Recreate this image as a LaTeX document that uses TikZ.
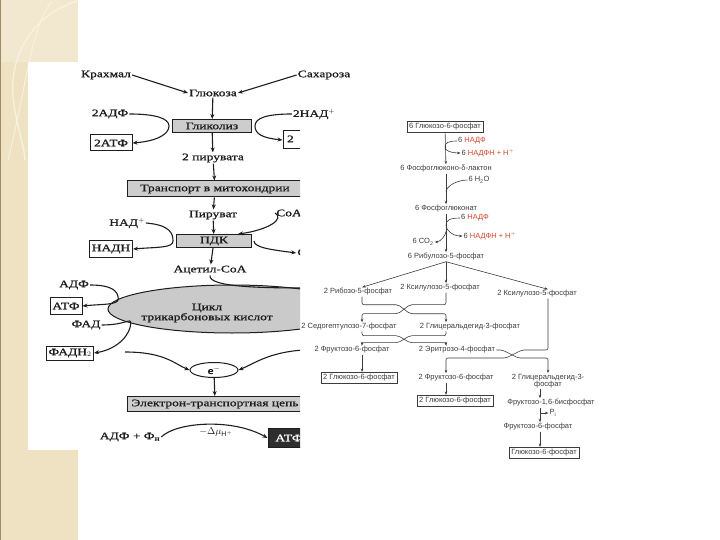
\documentclass[tikz,border=0pt]{standalone}
\usepackage{fontspec}
\setmainfont{Liberation Sans}
\newfontfamily\scanfont[FakeStretch=1.35, FakeBold=1.2]{Liberation Serif}
\usetikzlibrary{arrows.meta,positioning,shapes.geometric,calc}
\definecolor{strip}{HTML}{EEE2C3}
\definecolor{stripl}{HTML}{F2E8CF}
\definecolor{arcl}{HTML}{F8F1DE}
\definecolor{stripd}{HTML}{9C8B66}
\definecolor{boxgray}{HTML}{CDCDCD}
\definecolor{ellgray}{HTML}{CACACA}
\definecolor{darkbox}{HTML}{2E2E2E}
\definecolor{txt}{HTML}{1E1E1E}
\definecolor{txt2}{HTML}{3C3C3C}
\definecolor{redl}{HTML}{D2452B}

\begin{document}
\begin{tikzpicture}[x=1pt, y=-1pt,
  >=Stealth,
  lbl/.style={font=\scanfont\fontsize{10}{11}\selectfont, text=txt, inner sep=1pt},
  lbox/.style={lbl, draw=txt, line width=1pt, fill=white, inner sep=2pt},
  gbox/.style={lbl, draw=txt, line width=1pt, fill=boxgray},
  arrow/.style={-{Stealth[length=5pt,width=4pt]}, line width=1.1pt, draw=txt},
  curve/.style={line width=1.1pt, draw=txt},
  rlbl/.style={font=\fontsize{7.5}{8.5}\selectfont, text=txt2, inner sep=1pt},
  rbox/.style={rlbl, draw=txt2, line width=0.6pt, inner sep=2.2pt},
  rarrow/.style={-{Stealth[length=3.5pt,width=2.6pt]}, line width=0.6pt, draw=txt2},
  rline/.style={line width=0.6pt, draw=txt2},
]
\useasboundingbox (0,0) rectangle (720,540);

% slide border strip
\fill[strip] (0,0) rectangle (78,540);
\fill[stripl] (0,0) rectangle (78,62);
\draw[arcl, line width=1.4pt] (77,1) .. controls (35,14) and (6,55) .. (14,105) .. controls (18,130) and (24,145) .. (25,160);
\draw[arcl, line width=1pt] (52,1) .. controls (30,30) and (28,80) .. (8,160);
\draw[stripd, line width=0.8pt] (0.4,0) -- (0.4,540);

% glycolysis and TCA scheme (left picture)
\begin{scope}
\clip (28,62) -- (360,62) -- (360,120) -- (300,120) -- (300,450) -- (28,450) -- cycle;
\fill[white] (28,62) rectangle (360,450);

\node[lbl] (krahmal) at (106,75) {Крахмал};
\node[lbl] (saharoza) at (324,75) {Сахароза};
\node[lbl] (glucose) at (213,93) {Глюкоза};
\node[gbox, minimum width=79pt, minimum height=13pt] (glyc) at (212,126) {Гликолиз};
\node[lbl] (adp2) at (110,114) {2АДФ};
\node[lbox, minimum width=42pt, minimum height=16pt] (atp2) at (111,143) {2АТФ};
\node[lbl] (nad2) at (314,114) {2НАД$^+$};
\node[lbox, minimum width=60pt, minimum height=18pt] (nadh2) at (313,140) {2~~НАДН};
\node[lbl] (pyr2) at (213,158) {2 пирувата};
\node[gbox, minimum width=176pt, minimum height=16pt] (transp) at (215,189) {Транспорт в митохондрии};
\node[lbl] (pyruvate) at (213,215) {Пируват};
\node[gbox, minimum width=75pt, minimum height=13pt] (pdk) at (214,241) {ПДК};
\node[lbl] (nad) at (127,223) {НАД$^+$};
\node[lbox, minimum width=43pt, minimum height=17pt] (nadh) at (111,249) {НАДН};
\node[lbl] (coa) at (289,213) {СоА};
\node[lbl] (co2) at (309,253) {СО$_2$};
\node[lbl] (acetyl) at (210,270) {Ацетил-СоА};
\node[ellipse, draw=txt, line width=1pt, fill=ellgray, minimum width=248pt, minimum height=48pt] (tca) at (232,309) {};
\node[lbl, align=center] (tcatxt) at (207,313) {Цикл\\[-1pt]трикарбоновых кислот};
\node[lbl] (adp) at (74,285) {АДФ};
\node[lbox, minimum width=32pt, minimum height=17pt] (atp) at (66,306) {АТФ};
\node[lbl] (fad) at (86,325) {ФАД};
\node[lbox, minimum width=45pt, minimum height=14pt] (fadh2) at (70,353) {ФАДН$_2$};
\node[ellipse, draw=txt, line width=1pt, fill=white, minimum width=48pt, minimum height=15pt, inner sep=0pt] (electron) at (214,370) {\scanfont e$^-$};
\node[gbox, minimum width=176pt, minimum height=15pt] (etc) at (215,404) {Электрон-транспортная цепь};
\node[lbl] (adpp) at (130,437) {АДФ + Ф\textsubscript{н}};
\node[lbl] (dmu) at (216,432) {$-\Delta\mu_{\mathrm{H}^+}$};
\node[lbox, fill=darkbox, text=white, minimum width=42pt, minimum height=19pt] (atpd) at (289,438) {АТФ};
\coordinate (tcain) at (310,288);
\coordinate (ein1) at (125,352);
\coordinate (ein2) at (304,350);

\draw[arrow] (krahmal.east) -- (glucose.west);
\draw[arrow] (saharoza.west) -- (glucose.east);
\draw[arrow] (glucose) -- (glyc);
\draw[arrow] (adp2.east) .. controls +(25,0) and +(0,-8) .. ([xshift=-3pt]glyc.west) .. controls +(0,8) and +(25,-2) .. (atp2.east);
\draw[arrow] (nad2.west) .. controls +(-25,0) and +(0,-8) .. ([xshift=3pt]glyc.east) .. controls +(0,8) and +(-20,-2) .. (nadh2.west);
\draw[arrow] (glyc) -- (pyr2);
\draw[arrow] (pyr2) -- (transp);
\draw[arrow] (transp) -- (pyruvate);
\draw[arrow] (pyruvate) -- (pdk);
\draw[arrow] (nad.east) .. controls +(25,2) and +(0,-7) .. ([xshift=-3pt]pdk.west) .. controls +(0,7) and +(25,-2) .. (nadh.east);
\draw[arrow] (coa.west) .. controls +(10,6) and +(30,-4) .. ([xshift=-14pt]pdk.north east);
\draw[arrow] ([xshift=2pt]pdk.east) .. controls +(0,7) and +(-22,-3) .. (co2.west);
\draw[arrow] (pdk) -- (acetyl);
\draw[curve] (acetyl.south) .. controls +(-2,12) and +(-45,0) .. (tcain);
\draw[arrow] (adp.east) .. controls +(22,0) and +(0,-8) .. (tca.175) .. controls +(0,6) and +(20,-2) .. (atp.east);
\draw[arrow] (fad.east) .. controls +(25,0) and +(0,-6) .. (tca.188) .. controls +(0,10) and +(25,-4) .. (fadh2.east);
\draw[arrow] (ein1) .. controls +(40,0) and +(-15,-6) .. (electron.west);
\draw[arrow] (ein2) .. controls +(-35,2) and +(15,-6) .. (electron.east);
\draw[arrow] (electron) -- (etc);
\draw[arrow] (adpp.east) .. controls +(15,-15) and +(-35,-20) .. (atpd.west);
\end{scope}

% pentose phosphate scheme (right picture)
\node[rbox] (g6p) at (445,127) {6 Глюкозо-6-фосфат};
\node[rlbl] (nadp1) at (472,141) {6 \textcolor{redl}{НАДФ}};
\node[rlbl] (nadph1) at (488,153) {6 \textcolor{redl}{НАДФН + Н$^+$}};
\node[rlbl] (lacton) at (446,169) {6 Фосфоглюконо-δ-лактон};
\node[rlbl] (h2o) at (479,180) {6 H\textsubscript{2}O};
\node[rlbl] (pglc) at (446,209) {6 Фосфоглюконат};
\node[rlbl] (nadp2) at (475,218) {6 \textcolor{redl}{НАДФ}};
\node[rlbl] (nadph2) at (490,236) {6 \textcolor{redl}{НАДФН + Н$^+$}};
\node[rlbl] (co2r) at (423,242) {6 CO\textsubscript{2}};
\node[rlbl] (ru5p) at (446,257) {6 Рибулозо-5-фосфат};
\node[rlbl] (r5p) at (358,292) {2 Рибозо-5-фосфат};
\node[rlbl] (xu5pa) at (440,288) {2 Ксилулозо-5-фосфат};
\node[rlbl] (xu5pb) at (537,294) {2 Ксилулозо-5-фосфат};
\node[rlbl] (s7p) at (349,327) {2 Седогептулозо-7-фосфат};
\node[rlbl] (gap1) at (470,327) {2 Глицеральдегид-3-фосфат};
\node[rlbl] (f6pa) at (352,350) {2 Фруктозо-6-фосфат};
\node[rlbl] (e4p) at (457,350) {2 Эритрозо-4-фосфат};
\node[rbox] (g6pa) at (359,378) {2 Глюкозо-6-фосфат};
\node[rlbl] (f6pb) at (456,378) {2 Фруктозо-6-фосфат};
\node[rlbl, align=center] (gap2) at (548,381) {2 Глицеральдегид-3-\\[-2pt]фосфат};
\node[rbox] (g6pb) at (455,401) {2 Глюкозо-6-фосфат};
\node[rlbl] (f16bp) at (551,403) {Фруктозо-1,6-бисфосфат};
\node[rlbl] (pi) at (553,413) {P\textsubscript{i}};
\node[rlbl] (f6pc) at (538,427) {Фруктозо-6-фосфат};
\node[rbox] (g6pc) at (544,453) {Глюкозо-6-фосфат};
\coordinate (colL) at (362,280);
\coordinate (colM) at (446,280);
\coordinate (colR) at (548,280);
\coordinate (colP) at (540,280);
\coordinate (m1) at ($(nadp1.west)!0.5!(nadph1.west)$);
\coordinate (m2) at ($(lacton.south)!0.6!(pglc.north)$);
\coordinate (m3) at ($(nadp2.west)!0.4!(nadph2.west)$);
\coordinate (m4) at ($(nadp2.west)!0.75!(nadph2.west)$);

\draw[rarrow] (g6p) -- (lacton);
\draw[rarrow] (nadp1.west) .. controls +(-9,0) and +(0,-4) .. (m1 -| g6p.south) .. controls +(0,4) and +(-9,0) .. (nadph1.west);
\draw[rarrow] (lacton) -- (pglc);
\draw[rline] (h2o.west) .. controls +(-10,0) and +(0,-6) .. (m2);
\draw[rarrow] (pglc) -- (ru5p);
\draw[rarrow] (nadp2.west) .. controls +(-10,0) and +(0,-5) .. (m3 -| pglc.south) .. controls +(0,5) and +(-10,0) .. (nadph2.west);
\draw[rarrow] (m4 -| pglc.south) .. controls +(0,3) and +(6,0) .. (co2r.east);
\draw[rarrow] (ru5p.south) -- (r5p.north -| colL);
\draw[rarrow] (ru5p.south) -- (xu5pa.north -| colM);
\draw[rarrow] (ru5p.south) -- (xu5pb.north -| colR);
\draw[rarrow, rounded corners=2pt] (r5p.south -| colL) -- ++(0,8) -- ++(36,0) -- ++(12,9) -| (gap1.north -| colM);
\draw[rarrow, rounded corners=2pt] (xu5pa.south -| colM) -- ++(0,12) -- ++(-36,0) -- ++(-12,9) -| (s7p.north -| colL);
\draw[rarrow, rounded corners=2pt] (s7p.south -| colL) -- ++(0,4) -- ++(36,0) -- ++(12,7) -| (e4p.north -| colM);
\draw[rarrow, rounded corners=2pt] (gap1.south -| colM) -- ++(0,4) -- ++(-36,0) -- ++(-12,7) -| (f6pa.north -| colL);
\draw[rarrow, rounded corners=2pt] (e4p.east) -- ++(6,0) -- ++(16,8) -| (gap2.north -| colR);
\draw[rarrow, rounded corners=2pt] (xu5pb.south -| colR) -- (colR |- e4p.east) -- ++(-26,0) -- ++(-16,8) -| (f6pb.north -| colM);
\draw[rarrow] (f6pa.south -| colL) -- (g6pa.north -| colL);
\draw[rarrow] (f6pb.south -| colM) -- (g6pb.north -| colM);
\draw[rarrow] (gap2.south -| colP) -- (f16bp.north -| colP);
\draw[rarrow] (f16bp.south -| colP) -- (f6pc.north -| colP);
\draw[rarrow] (pi.west -| colP) -- (pi.west);
\draw[rarrow] (f6pc.south -| colP) -- (g6pc.north -| colP);
\end{tikzpicture}
\end{document}
